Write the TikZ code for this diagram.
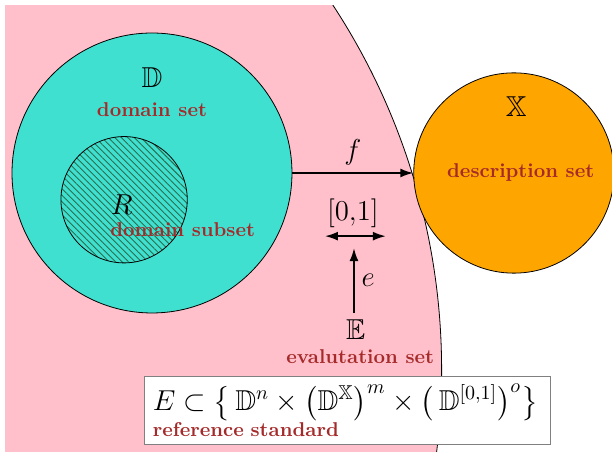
\documentclass[tikz,border=0pt]{standalone}
\usepackage{amssymb}
\usetikzlibrary{patterns.meta, arrows.meta}
\definecolor{pinkset}{HTML}{FFC0CB}
\definecolor{turq}{HTML}{40E0D0}
\definecolor{orangeset}{HTML}{FFA500}
\definecolor{lbl}{HTML}{A52A2A}
\definecolor{hatch}{HTML}{2A6E4E}
\tikzset{
    setlabel/.style={font=\bfseries, text=lbl},
    setsym/.style={font=\Large}
}
\begin{document}
\begin{tikzpicture}[>={Latex[length=6.5pt, width=4.5pt]}]
    \useasboundingbox (-2.671,3.040) rectangle (8.084,-4.903);
    % evalutation set
    \begin{scope}
        \clip (-2.583,2.952) rectangle (8.084,-4.903);
        \draw[fill=pinkset] (-6.61,-3.46) circle (11.70);
    \end{scope}
    \node[draw, circle, fill=turq, minimum size=4.92cm] (dom) at (0,0) {};
    \node[draw, circle, pattern={Lines[angle=-45, distance=2.3pt, line width=0.45pt]}, pattern color=hatch, minimum size=2.22cm] (sub) at (-0.49,-0.47) {};
    \node[draw, circle, fill=orangeset, minimum size=3.52cm] (desc) at (6.36,0) {};
    % labels
    \node[setsym] (dsym) at (0,1.67) {$\mathbb{D}$};
    \node[setlabel] (dlab) at (0,1.12) {domain set};
    \node[setsym] (rsym) at (-0.53,-0.56) {$R$};
    \node[setlabel] (rlab) at (0.54,-1.00) {domain subset};
    \node[setsym] (xsym) at (6.40,1.16) {$\mathbb{X}$};
    \node[setlabel] (xlab) at (6.48,0) {description set};
    \node[setsym] (esym) at (3.58,-2.76) {$\mathbb{E}$};
    \node[setlabel, inner sep=1pt] (elab) at (3.66,-3.22) {evalutation set};
    \node[setsym] (unit) at (3.53,-0.70) {$[0{,}1]$};
    % arrows
    \draw[->, line width=0.9pt] (dom) -- (desc) node[midway, above, setsym] (flab) {$f$};
    \coordinate (ul) at (3.04,-1.11);
    \coordinate (ur) at (4.11,-1.11);
    \draw[<->, line width=0.9pt] (ul) -- (ur);
    \coordinate (etip) at (3.55,-1.32);
    \draw[->, line width=0.9pt] (esym.north -| etip) -- (etip) node[midway, right, setsym] (elbl) {$e$};
    % reference standard
    \node[draw=gray, fill=white, text width=6.85cm, align=left, inner xsep=4pt, inner ysep=4pt] (std) at (3.44,-4.17)
        {\Large $E\subset\left\{\,\mathbb{D}^n\times\left(\mathbb{D}^{\mathbb{X}}\right)^m\times\left(\,\mathbb{D}^{[0,1]}\right)^o\right\}$\\[0pt]
         {\normalsize\bfseries\color{lbl} reference standard}};
\end{tikzpicture}
\end{document}
